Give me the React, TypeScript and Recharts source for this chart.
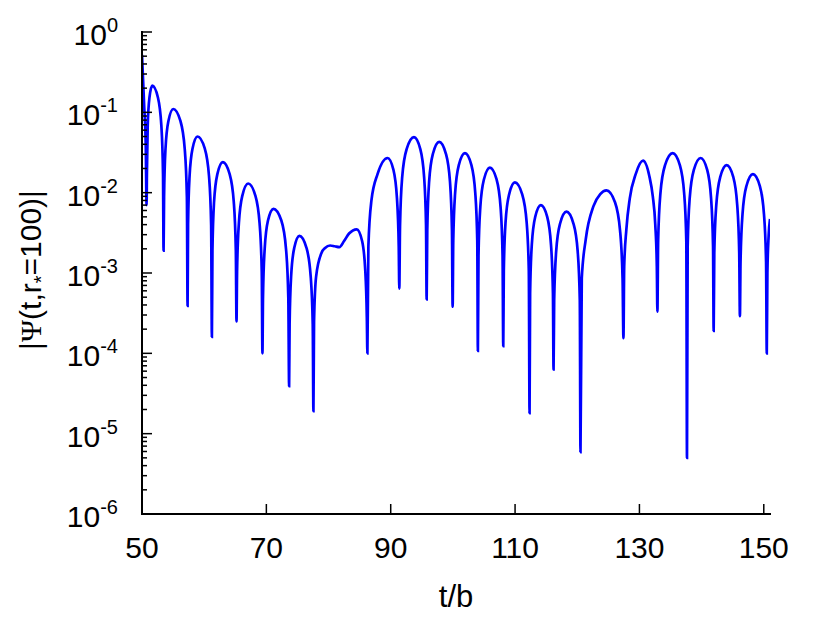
import { Line, LineChart, XAxis, YAxis } from 'recharts'

// time samples t/b
const tValues = [
  50.0, 50.35, 50.6, 50.74,
  50.79, 50.92, 51.2, 51.65, 52.56, 53.11, 53.38, 53.47,
  53.55, 53.78, 54.25, 55.03, 56.18, 56.87, 57.22, 57.33,
  57.41, 57.65, 58.13, 58.93, 60.09, 60.78, 61.12, 61.24,
  61.33, 61.59, 62.12, 63.0, 64.1, 64.76, 65.09, 65.2,
  65.29, 65.58, 66.14, 67.08, 68.23, 68.91, 69.26, 69.37,
  69.46, 69.73, 70.26, 71.15, 72.41, 73.16, 73.53, 73.66,
  73.74, 73.99, 74.49, 75.32, 76.45, 77.12, 77.46, 77.57,
  77.67, 78.0, 78.9, 79.45, 80.25, 81.0, 81.74, 82.5, 83.3, 84.54, 85.4, 85.9, 86.16, 86.25,
  86.41, 86.9, 87.88, 89.5, 90.44, 91.0, 91.29, 91.38,
  91.5, 91.85, 92.56, 93.74, 94.76, 95.37, 95.68, 95.78,
  95.88, 96.18, 96.79, 97.8, 98.88, 99.53, 99.85, 99.96,
  100.06, 100.36, 100.95, 101.94, 102.98, 103.6, 103.92, 104.02,
  104.12, 104.41, 104.99, 105.95, 107.03, 107.67, 107.99, 108.1,
  108.19, 108.47, 109.04, 109.97, 111.15, 111.86, 112.21, 112.33,
  112.42, 112.69, 113.24, 114.15, 115.17, 115.78, 116.09, 116.19,
  116.29, 116.61, 117.23, 118.27, 119.4, 120.07, 120.41, 120.52,
  120.73, 121.36, 122.61, 123.7, 124.7, 126.07, 126.88, 127.29, 127.43,
  127.55, 127.9, 128.45, 129.4, 130.58, 131.6, 132.15, 132.55, 132.8, 132.89,
  133.01, 133.38, 134.12, 135.35, 136.5, 137.19, 137.54, 137.65,
  137.76, 138.09, 138.75, 139.85, 140.9, 141.52, 141.84, 141.94,
  142.04, 142.36, 142.99, 144.03, 145.1, 145.73, 146.05, 146.16,
  146.26, 146.58, 147.21, 148.25, 149.37, 150.03, 150.37, 150.48,
  150.58, 150.78, 151.0,
]

// |Psi(t, r*=100)| at those samples
const psiValues = [
  0.52, 0.12, 0.04, 7.0e-3,
  0.0172, 0.0688, 0.153, 0.215, 0.153, 0.0688, 0.0172, 1.9e-3,
  8.8e-3, 0.0352, 0.0781, 0.11, 0.0781, 0.0352, 8.8e-3, 3.9e-4,
  4.0e-3, 0.016, 0.0355, 0.05, 0.0355, 0.016, 4.0e-3, 1.6e-4,
  1.92e-3, 7.7e-3, 0.017, 0.024, 0.017, 7.7e-3, 1.92e-3, 2.5e-4,
  1.04e-3, 4.16e-3, 9.2e-3, 0.013, 9.2e-3, 4.16e-3, 1.04e-3, 1.0e-4,
  5.0e-4, 2.0e-3, 4.5e-3, 6.3e-3, 4.5e-3, 2.0e-3, 5.0e-4, 3.9e-5,
  2.3e-4, 9.3e-4, 2.06e-3, 2.9e-3, 2.06e-3, 9.3e-4, 2.3e-4, 1.9e-5,
  2.5e-4, 9.0e-4, 1.8e-3, 2.05e-3, 2.2e-3, 2.15e-3, 2.1e-3, 2.5e-3, 3.1e-3, 3.5e-3, 2.5e-3, 1.1e-3, 2.8e-4, 1.0e-4,
  2.16e-3, 8.0e-3, 0.017, 0.027, 0.0192, 8.6e-3, 2.16e-3, 6.4e-4,
  3.9e-3, 0.0157, 0.0348, 0.049, 0.0348, 0.0157, 3.9e-3, 4.7e-4,
  3.4e-3, 0.0138, 0.0305, 0.043, 0.0305, 0.0138, 3.4e-3, 3.8e-4,
  2.5e-3, 9.9e-3, 0.022, 0.031, 0.022, 9.9e-3, 2.5e-3, 1.07e-4,
  1.64e-3, 6.6e-3, 0.0146, 0.0205, 0.0146, 6.6e-3, 1.64e-3, 1.23e-4,
  1.07e-3, 4.3e-3, 9.5e-3, 0.0134, 9.5e-3, 4.3e-3, 1.07e-3, 1.8e-5,
  5.6e-4, 2.24e-3, 5.0e-3, 7.0e-3, 5.0e-3, 2.24e-3, 5.6e-4, 6.3e-5,
  4.6e-4, 1.86e-3, 4.1e-3, 5.8e-3, 4.1e-3, 1.86e-3, 4.6e-4, 5.9e-6,
  8.6e-4, 2.6e-3, 6.8e-3, 9.6e-3, 0.0107, 7.6e-3, 3.4e-3, 8.6e-4, 1.55e-4,
  1.2e-3, 3.5e-3, 8.5e-3, 0.017, 0.025, 0.016, 9.0e-3, 4.0e-3, 1.2e-3, 3.3e-4,
  2.5e-3, 9.9e-3, 0.022, 0.031, 0.022, 9.9e-3, 2.5e-3, 5.0e-6,
  2.16e-3, 8.6e-3, 0.0192, 0.027, 0.0192, 8.6e-3, 2.16e-3, 1.9e-4,
  1.76e-3, 7.0e-3, 0.0156, 0.022, 0.0156, 7.0e-3, 1.76e-3, 2.9e-4,
  1.36e-3, 5.4e-3, 0.0121, 0.017, 0.0121, 5.4e-3, 1.36e-3, 1.0e-4,
  1.0e-3, 2.9e-3, 4.7e-3,
]

const xTicks = [50, 70, 90, 110, 130, 150]
const yMajorTicks = [1e-6, 1e-5, 1e-4, 1e-3, 1e-2, 1e-1, 1]
const yExponents = ['-6', '-5', '-4', '-3', '-2', '-1', '0']
const yMinorTicks = yMajorTicks.slice(0, -1).flatMap((d) => [2, 3, 4, 5, 6, 7, 8, 9].map((m) => m * d))

const data = tValues.map((t, i) => ({ t, psi: psiValues[i] }))

const FONT = '"Liberation Sans", Arial, Helvetica, sans-serif'

function XTick({ x, y, payload }: any) {
  return (
    <g>
      <line x1={x} x2={x} y1={y} y2={y - 10} stroke="#000" strokeWidth={1.5} />
      <text x={x} y={y + 44} textAnchor="middle" fontSize={30} fontFamily={FONT} fill="#000">
        {payload.value}
      </text>
    </g>
  )
}

function YTick({ x, y, payload }: any) {
  const idx = yMajorTicks.indexOf(payload.value)
  if (idx < 0) {
    return <line x1={x} x2={x + 5} y1={y} y2={y} stroke="#000" strokeWidth={1.5} />
  }
  return (
    <g>
      <line x1={x} x2={x + 10} y1={y} y2={y} stroke="#000" strokeWidth={1.5} />
      <text x={x - 24} y={y + 13} textAnchor="end" fontSize={30} fontFamily={FONT} fill="#000">
        10
        <tspan dy={-13} fontSize={20}>
          {yExponents[idx]}
        </tspan>
      </text>
    </g>
  )
}

function YTitle() {
  return (
    <text transform="translate(41,270) rotate(-90)" textAnchor="middle" fontSize={30} fontFamily={FONT} fill="#000">
      |<tspan fontFamily='"Liberation Serif", serif'>Ψ</tspan>(t,r
      <tspan dy={7} fontSize={20}>*</tspan>
      <tspan dy={-7}>=100)|</tspan>
    </text>
  )
}

export default function App() {
  return (
    <div style={{ position: 'absolute', left: 0, top: 0, width: 830, height: 620, background: '#fff' }}>
      <LineChart width={830} height={620} data={data} margin={{ top: 32, right: 60, bottom: 0, left: 0 }}>
        <XAxis
          dataKey="t"
          type="number"
          domain={[50, 151]}
          allowDataOverflow
          ticks={xTicks}
          interval={0}
          tickSize={0}
          tickMargin={0}
          tickLine={false}
          tick={<XTick />}
          height={106}
          axisLine={{ stroke: '#000', strokeWidth: 2, strokeLinecap: 'square' }}
          label={{ value: 't/b', position: 'insideBottom', offset: 13, fontSize: 31, fill: '#000', fontFamily: FONT }}
        />
        <YAxis
          type="number"
          scale="log"
          domain={[1e-6, 1]}
          allowDataOverflow
          ticks={[...yMajorTicks, ...yMinorTicks]}
          interval={0}
          tickSize={0}
          tickMargin={0}
          tickLine={false}
          tick={<YTick />}
          width={142}
          axisLine={{ stroke: '#000', strokeWidth: 2, strokeLinecap: 'square' }}
          label={<YTitle />}
        />
        <Line
          type="monotone"
          dataKey="psi"
          stroke="#0000ff"
          strokeWidth={2.7}
          dot={false}
          activeDot={false}
          isAnimationActive={false}
        />
      </LineChart>
    </div>
  )
}
